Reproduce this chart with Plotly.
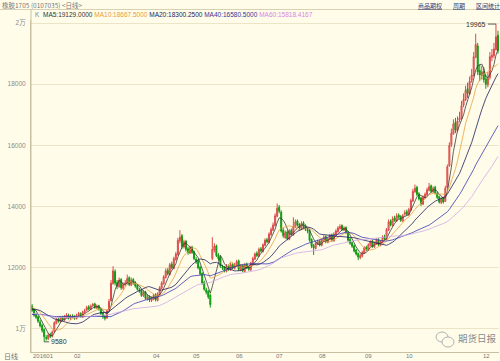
import plotly.graph_objects as go
import pandas as pd

# ---------------- data ----------------
prior_closes = [10900, 10850, 10950, 10800, 10750, 10700, 10800, 10850, 10750, 10650,
                10600, 10550, 10500, 10600, 10550, 10450, 10400, 10350, 10300, 10250,
                10200, 10300, 10250, 10150, 10100, 10200, 10300, 10250, 10350, 10400,
                10300, 10250, 10200, 10300, 10350, 10400, 10450, 10500, 10400, 10350,
                10300, 10400, 10450, 10550, 10500, 10600, 10650, 10600, 10550, 10650,
                10700, 10750, 10650, 10700, 10800, 10750, 10650, 10700, 10800, 10750]

opens = [
    # Jan
    10750, 10620, 10470, 10400, 10230, 10120, 9980, 9720, 9680, 9820, 9760, 9920, 10180, 10320, 10240, 10380, 10290, 10380, 10460, 10340,
    # Feb
    10430, 10410, 10340, 10460, 10510, 10380, 10540, 10610, 10720, 10640, 10760, 10820, 10690, 10760, 10660, 10520,
    # Mar
    10420, 10360, 10620, 10920, 11480, 11880, 11520, 11380, 11620, 11330, 11470, 11480, 11680, 11430, 11620, 11520, 11420, 11280, 11270, 11080, 11220, 10980, 11070,
    # Apr
    10930, 10980, 11120, 10930, 11130, 11330, 11480, 11680, 11920, 11780, 12120, 11980, 12280, 12430, 12880, 13050, 12680, 12870, 12620, 12480,
    # May
    12670, 12520, 12280, 12230, 12020, 11820, 11520, 11280, 11230, 11100, 12300, 12580, 12720, 12420, 12330, 12030, 12020, 11880, 12070, 11930, 12120,
    # Jun
    11980, 12080, 12230, 11930, 12070, 11880, 12120, 12020, 11930, 12130, 12280, 12480, 12380, 12620, 12530, 12730, 12920, 12830, 13080, 13230,
    # Jul
    13380, 13680, 13980, 13820, 13230, 12980, 13170, 12930, 13230, 13080, 13330, 13530, 13420, 13280, 13470, 13380, 13230, 13220, 12930, 12720, 12630,
    # Aug
    12780, 12870, 12730, 12880, 13020, 12830, 12930, 13080, 12880, 13080, 13180, 13280, 13380, 13230, 13320, 13170, 12930, 12820, 12720, 12580, 12470, 12330, 12380,
    # Sep
    12480, 12670, 12580, 12730, 12880, 12680, 12780, 12930, 12730, 12830, 13020, 12930, 13230, 13530, 13380, 13630, 13530, 13720, 13680, 13530,
    # Oct
    13750, 13830, 13730, 13880, 14180, 14480, 14630, 14420, 14280, 14080, 14280, 14380, 14530, 14680, 14480, 14630,
    # Nov
    14430, 14320, 14130, 14280, 14170, 14620, 15330, 16020, 16380, 16750, 16480, 16830, 16880, 17320, 17480, 17850, 17680, 18130, 18280, 18880, 19250, 18450,
    # Dec
    18280, 18420, 18170, 17980, 18220, 18880, 18930, 19130, 19600,
]

highs = [
    10820, 10680, 10530, 10440, 10300, 10170, 10020, 9800, 9860, 9880, 9950, 10250, 10360, 10380, 10410, 10430, 10460, 10520, 10500, 10480,
    10480, 10450, 10500, 10560, 10540, 10600, 10660, 10760, 10780, 10800, 10850, 10860, 10800, 10790, 10700, 10560,
    10460, 10650, 10980, 11600, 12050, 11950, 11600, 11680, 11660, 11520, 11600, 11780, 11720, 11680, 11660, 11560, 11450, 11350, 11300, 11260, 11250, 11120, 11100,
    11060, 11150, 11170, 11200, 11400, 11560, 11760, 11980, 11990, 12160, 12200, 12360, 12520, 12980, 13230, 13100, 12920, 12900, 12680, 12720,
    12720, 12560, 12350, 12260, 12060, 11850, 11580, 11350, 11280, 11150, 13000, 12800, 12760, 12480, 12380, 12100, 12060, 12120, 12110, 12160, 12170,
    12160, 12260, 12270, 12110, 12110, 12150, 12170, 12060, 12200, 12360, 12500, 12540, 12660, 12680, 12800, 12960, 12980, 13160, 13320, 13480,
    13780, 14100, 14050, 13880, 13300, 13220, 13220, 13260, 13280, 13650, 13580, 13580, 13460, 13520, 13520, 13420, 13300, 13250, 12960, 12780, 12860,
    12920, 12920, 12960, 13060, 13060, 13010, 13110, 13120, 13160, 13260, 13360, 13420, 13420, 13360, 13350, 13200, 12980, 12860, 12760, 12620, 12500, 12460, 12560,
    12700, 12720, 12800, 12900, 12920, 12860, 12960, 12970, 12900, 13060, 13080, 13300, 13580, 13580, 13680, 13700, 13780, 13780, 13720, 13760,
    13880, 13900, 13960, 14260, 14580, 14720, 14680, 14470, 14320, 14360, 14460, 14620, 14770, 14720, 14660, 14680,
    14480, 14360, 14300, 14320, 14680, 15380, 16100, 16550, 16850, 16900, 16950, 17100, 17450, 17700, 17950, 18050, 18250, 18500, 19050, 19650, 19350, 18650,
    18600, 18550, 18300, 18400, 19050, 19150, 19350, 19965, 19750,
]

lows = [
    10560, 10400, 10320, 10200, 10050, 9880, 9580, 9620, 9640, 9700, 9720, 9890, 10150, 10200, 10210, 10260, 10260, 10350, 10310, 10300,
    10350, 10300, 10310, 10420, 10370, 10360, 10500, 10580, 10610, 10610, 10720, 10660, 10650, 10600, 10450, 10330,
    10280, 10330, 10580, 10900, 11450, 11420, 11300, 11350, 11280, 11280, 11400, 11450, 11400, 11400, 11450, 11350, 11250, 11180, 11050, 11050, 10950, 10930, 10880,
    10880, 10940, 10900, 10900, 11100, 11300, 11450, 11650, 11750, 11750, 11950, 11950, 12230, 12400, 12800, 12620, 12630, 12530, 12430, 12450,
    12450, 12250, 12130, 11950, 11750, 11450, 11250, 11130, 10980, 10700, 12250, 12500, 12350, 12230, 12000, 11930, 11850, 11850, 11900, 11900, 11950,
    11940, 12040, 11900, 11890, 11850, 11850, 11960, 11900, 11900, 12100, 12250, 12350, 12350, 12500, 12500, 12700, 12800, 12800, 13050, 13200,
    13350, 13650, 13780, 13150, 12980, 12950, 12900, 12900, 13050, 13050, 13300, 13350, 13250, 13250, 13300, 13200, 13130, 12850, 12640, 12420, 12600,
    12740, 12700, 12700, 12850, 12800, 12800, 12900, 12850, 12850, 13050, 13150, 13250, 13200, 13200, 13100, 12850, 12750, 12650, 12500, 12400, 12250, 12280, 12340,
    12450, 12550, 12550, 12700, 12650, 12650, 12750, 12700, 12700, 12800, 12900, 12900, 13200, 13350, 13350, 13500, 13500, 13600, 13500, 13500,
    13700, 13700, 13700, 13850, 14150, 14450, 14350, 14200, 14020, 14050, 14250, 14350, 14500, 14450, 14450, 14400,
    14250, 14100, 14080, 14100, 14150, 14600, 15300, 15950, 16350, 16400, 16450, 16750, 16850, 17250, 17450, 17550, 17650, 18050, 18250, 18850, 18300, 18100,
    18150, 18050, 17850, 17900, 18150, 18750, 18850, 19100, 19000,
]

closes = [
    10600, 10450, 10380, 10250, 10100, 9950, 9750, 9700, 9800, 9750, 9900, 10200, 10300, 10250, 10350, 10300, 10400, 10450, 10350, 10420,
    10400, 10350, 10450, 10500, 10400, 10550, 10600, 10700, 10650, 10750, 10800, 10700, 10750, 10650, 10500, 10400,
    10350, 10600, 10900, 11500, 11900, 11500, 11400, 11600, 11350, 11450, 11500, 11650, 11450, 11600, 11500, 11400, 11300, 11250, 11100, 11200, 11000, 11050, 10950,
    11000, 11100, 10950, 11150, 11350, 11500, 11700, 11900, 11800, 12100, 12000, 12300, 12450, 12900, 13000, 12700, 12850, 12600, 12500, 12650,
    12500, 12300, 12200, 12000, 11800, 11500, 11300, 11200, 11050, 10800, 12600, 12700, 12400, 12300, 12050, 12000, 11900, 12050, 11950, 12100, 12000,
    12100, 12200, 11950, 12050, 11900, 12100, 12000, 11950, 12150, 12300, 12450, 12400, 12600, 12550, 12750, 12900, 12850, 13100, 13250, 13400,
    13700, 13950, 13850, 13200, 13050, 13150, 12950, 13200, 13100, 13350, 13500, 13400, 13300, 13450, 13350, 13250, 13200, 12900, 12700, 12650, 12800,
    12850, 12750, 12900, 13000, 12850, 12950, 13050, 12900, 13100, 13200, 13300, 13350, 13250, 13300, 13150, 12900, 12800, 12700, 12550, 12450, 12350, 12400, 12500,
    12650, 12600, 12750, 12850, 12700, 12800, 12900, 12750, 12850, 13000, 12950, 13250, 13500, 13400, 13600, 13550, 13700, 13650, 13550, 13700,
    13800, 13750, 13900, 14200, 14500, 14600, 14400, 14250, 14100, 14300, 14400, 14550, 14650, 14500, 14600, 14450,
    14300, 14150, 14250, 14150, 14600, 15300, 16000, 16400, 16700, 16500, 16800, 16900, 17300, 17500, 17800, 17700, 18100, 18300, 18900, 19300, 18400, 18300,
    18400, 18150, 18000, 18200, 18900, 18950, 19150, 19550, 19100,
]

month_labels = ["201601", "02", "04", "05", "06", "07", "08", "09", "10", "12"]
month_start_idx = [0, 20, 59, 79, 100, 120, 141, 164, 184, 222]

y_tick_vals = [10000, 12000, 14000, 16000, 18000, 20000]
y_tick_text = ["1万", "12000", "14000", "16000", "18000", "2万"]

ma_periods = [5, 10, 20, 40, 60]
ma_colors = ["#3a3a3a", "#e8a040", "#1e1e5a", "#3a3ab0", "#cfa8e6"]
ma_header = ["MA5:19129.0000", "MA10:18667.5000", "MA20:18300.2500", "MA40:16580.5000", "MA60:15818.4167"]
ma_header_colors = ["#333333", "#e89c40", "#24245e", "#34349a", "#d884e0"]

low_label = 9580
high_label = 19965

# ---------------- figure ----------------
x = list(range(len(closes)))
all_closes = pd.Series(prior_closes + closes, dtype=float)
n_prior = len(prior_closes)

BG = "#fffdea"
FONT = "Liberation Sans, Arial, Noto Sans CJK SC, sans-serif"
CJK = "Noto Sans CJK SC, sans-serif"

fig = go.Figure()
fig.add_trace(go.Candlestick(
    x=x, open=opens, high=highs, low=lows, close=closes,
    increasing=dict(line=dict(color="#dc4a4a", width=1), fillcolor="#ee9090"),
    decreasing=dict(line=dict(color="#139a13", width=1), fillcolor="#139a13"),
    whiskerwidth=0, showlegend=False, hoverinfo="skip",
))

for p, col in zip(ma_periods, ma_colors):
    ma = all_closes.rolling(p).mean().iloc[n_prior:].tolist()
    fig.add_trace(go.Scatter(x=x, y=ma, mode="lines", line=dict(color=col, width=0.8),
                             showlegend=False, hoverinfo="skip"))

W, H = 500, 361
L, R, T, B = 31, 1, 20, 9
pw, ph = W - L - R, H - T - B


def px(xp):
    return (xp - L) / pw


def py(yp):
    return (H - B - yp) / ph


annotations = []
annotations.append(dict(x=px(0), y=py(5), xref="paper", yref="paper", xanchor="left", yanchor="middle",
                        text="橡胶1705 (0107035) <日线>", showarrow=False,
                        font=dict(family=CJK, size=6.5, color="#777777")))
spans = ["<span style='color:#888888'>K</span>&nbsp;"]
for t, c in zip(ma_header, ma_header_colors):
    spans.append(f"<span style='color:{c}'>{t}</span>")
annotations.append(dict(x=px(33), y=py(14.5), xref="paper", yref="paper", xanchor="left", yanchor="middle",
                        text=" ".join(spans), showarrow=False,
                        font=dict(family=FONT, size=6.5, color="#333333")))
for txt, xl in [("商品期权", 416), ("周期", 451), ("区间统计", 474)]:
    annotations.append(dict(x=px(xl), y=py(5), xref="paper", yref="paper", xanchor="left", yanchor="middle",
                            text=f"<u>{txt}</u>", showarrow=False,
                            font=dict(family=CJK, size=6, color="#30407a")))
annotations.append(dict(x=px(2), y=py(356), xref="paper", yref="paper", xanchor="left", yanchor="middle",
                        text="日线", showarrow=False, font=dict(family=CJK, size=7, color="#777777")))
for lab, idx in zip(month_labels, month_start_idx):
    annotations.append(dict(x=idx - 0.4, y=py(356), xref="x", yref="paper", xanchor="left", yanchor="middle",
                            text=lab, showarrow=False, font=dict(family=FONT, size=6, color="#777777")))
annotations.append(dict(x=lows.index(low_label), y=low_label, xref="x", yref="y", text=str(low_label),
                        showarrow=True, arrowhead=0, arrowwidth=0.8, arrowcolor="#333333",
                        ax=5, ay=0, xanchor="left", yanchor="middle",
                        font=dict(family=FONT, size=7, color="#333333")))
annotations.append(dict(x=highs.index(high_label), y=high_label, xref="x", yref="y", text=str(high_label),
                        showarrow=True, arrowhead=0, arrowwidth=0.8, arrowcolor="#333333",
                        ax=-8, ay=0, xanchor="right", yanchor="middle",
                        font=dict(family=FONT, size=7, color="#333333")))
annotations.append(dict(x=px(456), y=py(338), xref="paper", yref="paper", xanchor="left", yanchor="middle",
                        text="期货日报", showarrow=False, font=dict(family=CJK, size=9.5, color="#8a8a8a")))

shapes = [
    dict(type="line", xref="paper", yref="paper", x0=px(0), x1=px(500), y0=py(9.5), y1=py(9.5),
         line=dict(color="#d8d0b0", width=1)),
    dict(type="line", xref="paper", yref="paper", x0=0, x1=0, y0=0, y1=py(9.5),
         line=dict(color="#c8c0a0", width=1)),
    dict(type="circle", xref="paper", yref="paper", x0=px(436), x1=px(448), y0=py(342), y1=py(332),
         line=dict(color="#b0b0b0", width=1)),
    dict(type="circle", xref="paper", yref="paper", x0=px(442), x1=px(454), y0=py(347), y1=py(337),
         line=dict(color="#b0b0b0", width=1), fillcolor=BG),
]

fig.update_layout(
    width=W, height=H, margin=dict(l=L, r=R, t=T, b=B, pad=0),
    paper_bgcolor=BG, plot_bgcolor=BG,
    showlegend=False, annotations=annotations, shapes=shapes,
    xaxis=dict(range=[-0.5, len(closes) - 0.5], showgrid=False, zeroline=False, showticklabels=False,
               showline=True, linecolor="#c8c0a0", linewidth=1, rangeslider=dict(visible=False),
               fixedrange=True),
    yaxis=dict(range=[9248, 20098], tickvals=y_tick_vals, ticktext=y_tick_text,
               showgrid=True, gridcolor="#ebe4c6", gridwidth=1, zeroline=False,
               showline=True, linecolor="#c8c0a0", linewidth=1, ticks="",
               tickfont=dict(family=FONT, size=6.5, color="#8a8a8a"), ticklabelstandoff=3,
               fixedrange=True),
    font=dict(family=FONT),
)

fig.write_html(
    "out.html",
    config={"displayModeBar": False},
    post_script="document.body.style.margin='0';document.body.style.overflow='hidden';"
                "document.body.style.background='" + BG + "';",
)
